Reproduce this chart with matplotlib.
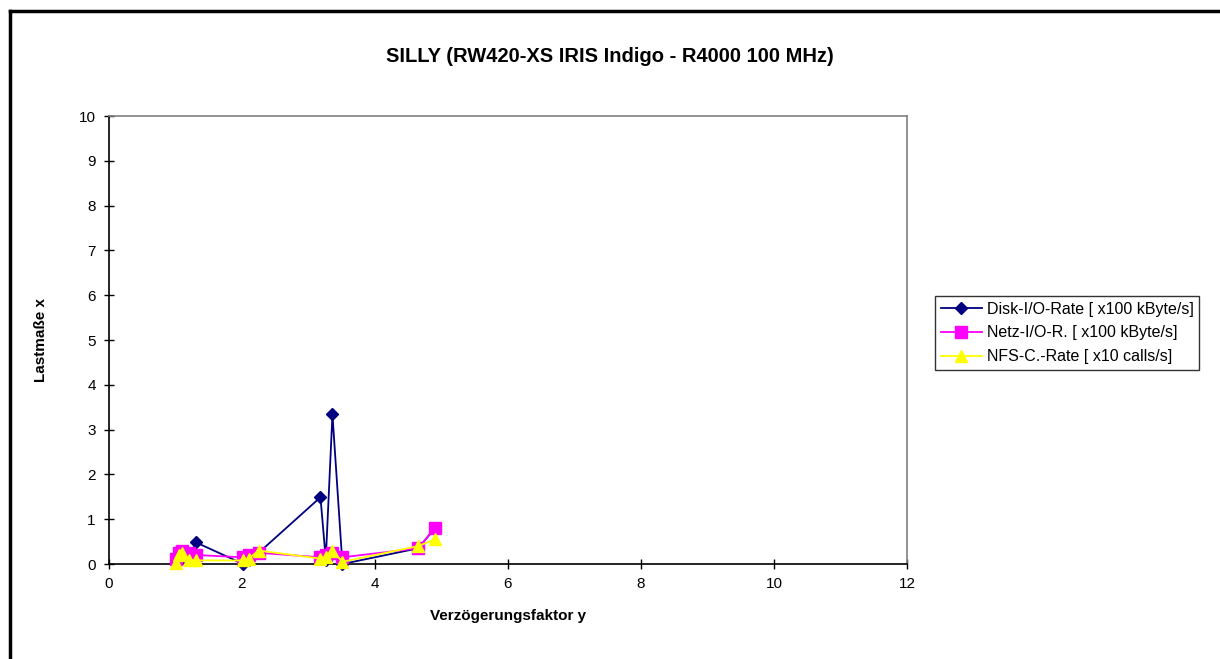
import matplotlib.pyplot as plt
from matplotlib.lines import Line2D

plt.rcParams['font.family'] = ['Liberation Sans', 'DejaVu Sans']

# Verzoegerungsfaktor (x) and measured load values per series
x_vals = [1.0, 1.05, 1.1, 1.2, 1.31, 2.02, 2.1, 2.25, 3.18, 3.26, 3.36, 3.51, 4.65, 4.9]
disk = [0.05, 0.1, 0.15, 0.1, 0.48, 0.0, 0.1, 0.25, 1.49, 0.1, 3.34, 0.0, 0.35, 0.8]
netz = [0.12, 0.25, 0.3, 0.25, 0.2, 0.15, 0.2, 0.25, 0.15, 0.2, 0.25, 0.15, 0.35, 0.8]
nfs = [0.03, 0.2, 0.25, 0.1, 0.08, 0.08, 0.12, 0.3, 0.12, 0.15, 0.3, 0.05, 0.4, 0.55]

labels = ['Disk-I/O-Rate [ x100 kByte/s]', 'Netz-I/O-R. [ x100 kByte/s]', 'NFS-C.-Rate [ x10 calls/s]']

fig = plt.figure(figsize=(12.2, 6.59), dpi=100)
ax = fig.add_axes([109/1220, 1 - 564/659, 798/1220, 448/659])

ax.plot(x_vals, disk, color='#000080', marker='D', markersize=6, lw=1.3, label=labels[0], clip_on=False, zorder=3)
ax.plot(x_vals, netz, color='#FF00FF', marker='s', markersize=8, lw=1.3, label=labels[1], clip_on=False, zorder=4)
ax.plot(x_vals, nfs, color='#FFFF00', marker='^', markersize=9, lw=1.3, label=labels[2], clip_on=False, zorder=5)

ax.set_xlim(0, 12)
ax.set_ylim(0, 10)
ax.set_xticks(range(0, 13, 2))
ax.set_yticks(range(0, 11))
ax.tick_params(direction='inout', length=7, width=1, labelsize=11, pad=6)
ax.spines['left'].set_color('black')
ax.spines['bottom'].set_color('black')
ax.spines['top'].set_color('#808080')
ax.spines['right'].set_color('#808080')
for s in ax.spines.values():
    s.set_linewidth(1.2)

ax.set_xlabel('Verzögerungsfaktor y', fontsize=11, fontweight='bold', labelpad=13)
ax.set_ylabel('Lastmaße x', fontsize=11, fontweight='bold', labelpad=22)
fig.text(0.5, 1 - 57/659, 'SILLY (RW420-XS IRIS Indigo - R4000 100 MHz)', fontsize=14.5,
         fontweight='bold', ha='center', va='center')

leg = fig.legend(loc='center left', bbox_to_anchor=(935/1220, 1 - 333/659), fontsize=11.5,
                 frameon=True, fancybox=False, edgecolor='black', handlelength=2.6,
                 borderpad=0.35, labelspacing=0.55, handletextpad=0.3, borderaxespad=0)
leg.get_frame().set_linewidth(1.0)

# outer chart border
fig.add_artist(Line2D([10/1220, 10/1220], [0, 1 - 11/659], color='black', lw=2.5, transform=fig.transFigure))
fig.add_artist(Line2D([10/1220, 1], [1 - 11/659, 1 - 11/659], color='black', lw=2.5, transform=fig.transFigure))

fig.savefig('out.png', dpi=100)
